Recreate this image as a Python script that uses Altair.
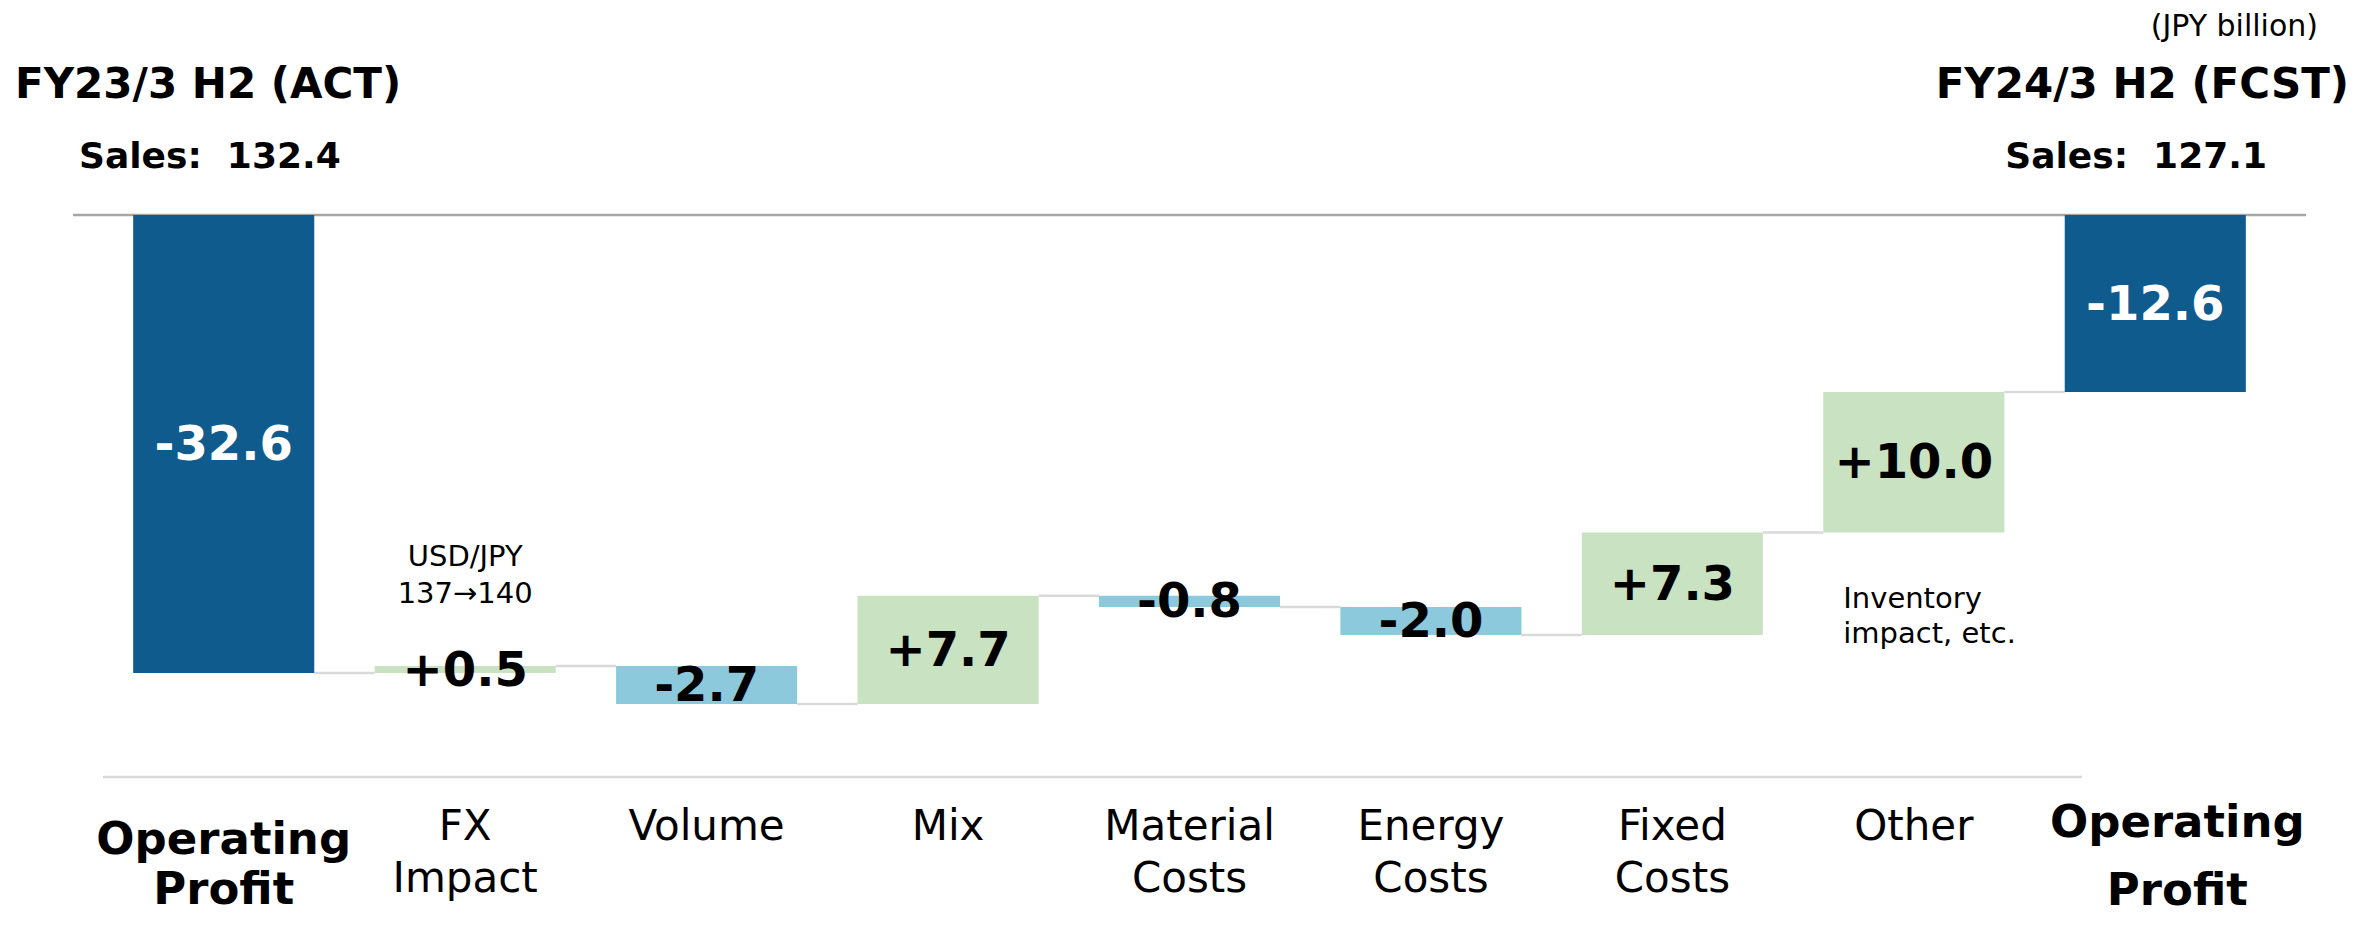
import altair as alt
import pandas as pd

# ---- data ----
keys = ["op_start", "fx", "volume", "mix", "material", "energy", "fixed", "other", "op_end"]
cat_labels = ["Operating\nProfit", "FX\nImpact", "Volume", "Mix", "Material\nCosts",
              "Energy\nCosts", "Fixed\nCosts", "Other", "Operating\nProfit"]
values = [-32.6, 0.5, -2.7, 7.7, -0.8, -2.0, 7.3, 10.0, -12.6]
kinds = ["total", "delta", "delta", "delta", "delta", "delta", "delta", "delta", "total"]

left_title = "FY23/3 H2 (ACT)"
left_sales = "Sales:\u00a0 132.4"
right_title = "FY24/3 H2 (FCST)"
right_sales = "Sales:\u00a0 127.1"
unit_note = "(JPY billion)"
fx_note = "USD/JPY\n137→140"
other_note = "Inventory\nimpact, etc."

BAR_HALF = 0.375  # half of bar width, in category steps

# ---- derived table ----
rows = []
running = 0.0
for i, (k, lab, v, kd) in enumerate(zip(keys, cat_labels, values, kinds)):
    if kd == "total":
        start, end = 0.0, v
    else:
        start, end = running, running + v
    running = end
    if kd == "total":
        color_kind = "total"
        txt = f"{v:.1f}"
    else:
        color_kind = "up" if v >= 0 else "down"
        txt = f"{v:+.1f}"
    rows.append(dict(key=k, idx=float(i), x0=i - BAR_HALF, x1=i + BAR_HALF, label=lab,
                     start=start, end=end, mid=(start + end) / 2, kind=color_kind, txt=txt))
df = pd.DataFrame(rows)
df_tot = df[df["kind"] == "total"].copy()
df_del = df[df["kind"] != "total"].copy()
df_left = df[df["key"] == "op_start"].copy()
df_right = df[df["key"] == "op_end"].copy()
df_fx = df[df["key"] == "fx"].copy()
df_fx["note"] = fx_note
df_other = df[df["key"] == "other"].copy()
df_other["note"] = other_note

conn = pd.DataFrame({
    "cx0": df["x1"].iloc[:-1].values,
    "cx1": df["x0"].iloc[1:].values,
    "level": df["end"].iloc[:-1].values,
})

FONT = "DejaVu Sans"
W, H = 2173, 562

x_scale = alt.Scale(domain=[-0.5, len(keys) - 0.5], nice=False, zero=False)
y_scale = alt.Scale(domain=[-40, 0], nice=False, zero=False)


def X(f):
    return alt.X(f, scale=x_scale, axis=None)


def Y(f):
    return alt.Y(f, scale=y_scale, axis=None)


bars = alt.Chart(df).mark_bar().encode(
    x=X("x0:Q"),
    x2="x1:Q",
    y=Y("start:Q"),
    y2="end:Q",
    color=alt.Color("kind:N", legend=None,
                    scale=alt.Scale(domain=["total", "up", "down"],
                                    range=["#0F5B8E", "#C9E2C1", "#8DC9DC"])),
)

connectors = alt.Chart(conn).mark_rule(color="#D9D9D9", strokeWidth=2.5).encode(
    x=X("cx0:Q"), x2="cx1:Q", y=Y("level:Q"),
)

top_line = alt.Chart(pd.DataFrame({"v": [0.0]})).mark_rule(color="#A6A6A6", strokeWidth=2.5).encode(
    y=Y("v:Q"), x=alt.value(-30), x2=alt.value(2203)
)
bottom_line = alt.Chart(pd.DataFrame({"v": [-40.0]})).mark_rule(color="#D9D9D9", strokeWidth=2.5).encode(
    y=Y("v:Q"), x=alt.value(0), x2=alt.value(1979)
)

value_text_del = alt.Chart(df_del).mark_text(
    font=FONT, fontSize=48, fontWeight="bold", baseline="middle", dy=2, color="black"
).encode(x=X("idx:Q"), y=Y("mid:Q"), text="txt:N")

value_text_tot = alt.Chart(df_tot).mark_text(
    font=FONT, fontSize=48, fontWeight="bold", baseline="middle", dy=2, color="white"
).encode(x=X("idx:Q"), y=Y("mid:Q"), text="txt:N")

reg_labels = alt.Chart(df_del).mark_text(
    font=FONT, fontSize=42, lineBreak="\n", lineHeight=52, baseline="alphabetic", color="black"
).encode(x=X("idx:Q"), y=alt.value(625), text="label:N")

left_total_label = alt.Chart(df_left).mark_text(
    font=FONT, fontSize=45, fontWeight="bold", lineBreak="\n", lineHeight=50,
    baseline="alphabetic", color="black"
).encode(x=X("idx:Q"), y=alt.value(639), text="label:N")

right_total_label = alt.Chart(df_right).mark_text(
    font=FONT, fontSize=45, fontWeight="bold", lineBreak="\n", lineHeight=68,
    baseline="alphabetic", color="black", dx=22
).encode(x=X("idx:Q"), y=alt.value(622), text="label:N")

fx_annot = alt.Chart(df_fx).mark_text(
    font=FONT, fontSize=29, lineBreak="\n", lineHeight=37, baseline="alphabetic", color="black"
).encode(x=X("idx:Q"), y=alt.value(351), text="note:N")

other_annot = alt.Chart(df_other).mark_text(
    font=FONT, fontSize=29, lineBreak="\n", lineHeight=35, baseline="alphabetic",
    align="left", color="black", dx=20
).encode(x=X("x0:Q"), y=alt.value(393), text="note:N")


def note(text, x, y, size, weight="bold", align="left"):
    return alt.Chart(pd.DataFrame({"t": [text]})).mark_text(
        font=FONT, fontSize=size, fontWeight=weight, align=align, baseline="alphabetic", color="black"
    ).encode(x=alt.value(x), y=alt.value(y), text="t:N")


titles = [
    note(left_title, -88, -117, 42),
    note(left_sales, -24, -47, 36),
    note(unit_note, 2215, -179, 30, weight="normal", align="right"),
    note(right_title, 2246, -117, 42, align="right"),
    note(right_sales, 2164, -47, 36, align="right"),
]

chart = alt.layer(
    top_line, bottom_line, connectors, bars, value_text_del, value_text_tot, reg_labels,
    left_total_label, right_total_label, fx_annot, other_annot, *titles
).properties(
    width=W, height=H,
    autosize=alt.AutoSizeParams(type="none"),
    padding={"left": 95, "top": 207, "right": 90, "bottom": 140},
).configure_view(strokeWidth=0)

chart.save("out.html", embed_options={"renderer": "svg", "actions": False})
